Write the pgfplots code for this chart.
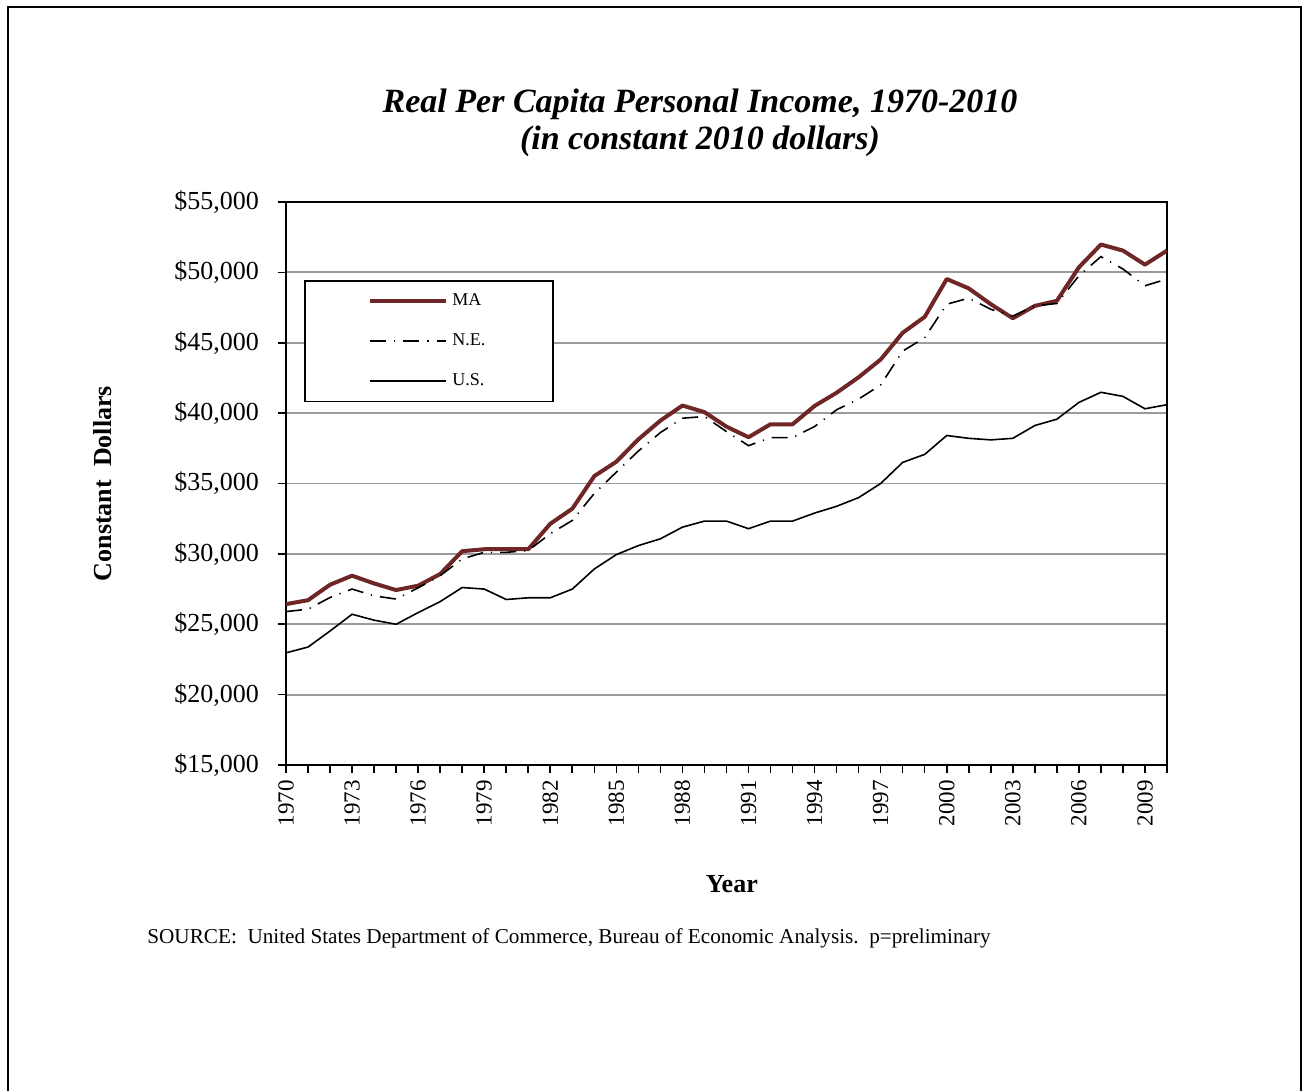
\documentclass[border=0pt]{standalone}
\usepackage{pgfplots}
\usepackage{pgfplotstable}
\pgfplotsset{compat=1.18}
\usepackage{fontspec}
\setmainfont{Liberation Serif}

\definecolor{maroon}{RGB}{110,38,38}
\definecolor{gridgray}{RGB}{155,155,155}

% year, MA, N.E., U.S. (constant 2010 dollars)
\pgfplotstableread{
year MA NE US
1970 26430 25900 22970
1971 26710 26070 23380
1972 27810 26900 24520
1973 28450 27500 25710
1974 27900 27020 25290
1975 27430 26790 25000
1976 27740 27590 25830
1977 28570 28450 26610
1978 30190 29640 27610
1979 30330 30110 27500
1980 30330 30110 26760
1981 30330 30240 26880
1982 32140 31430 26880
1983 33210 32380 27500
1984 35530 34300 28930
1985 36550 35810 29950
1986 38140 37310 30590
1987 39470 38620 31070
1988 40540 39640 31900
1989 40070 39760 32330
1990 39040 38690 32330
1991 38290 37690 31790
1992 39210 38260 32330
1993 39210 38260 32330
1994 40510 39050 32900
1995 41450 40240 33380
1996 42550 41000 34000
1997 43810 42000 35000
1998 45710 44410 36500
1999 46840 45360 37070
2000 49530 47740 38410
2001 48860 48170 38210
2002 47740 47380 38100
2003 46740 46900 38210
2004 47620 47620 39120
2005 47980 47790 39570
2006 50360 49760 40760
2007 51980 51120 41480
2008 51550 50240 41190
2009 50550 49050 40310
2010 51550 49530 40600
}\income

\begin{document}
\begin{tikzpicture}
\path[use as bounding box] (0,0) rectangle (651pt,-545.5pt);
\draw[line width=1pt] (4pt,-545.5pt) -- (4pt,-3.5pt) -- (650.5pt,-3.5pt) -- (650.5pt,-545.5pt);

\node[font=\fontsize{17}{20}\selectfont\bfseries\itshape] at (350pt,-52pt) {Real Per Capita Personal Income, 1970-2010};
\node[font=\fontsize{17}{20}\selectfont\bfseries\itshape] at (350pt,-70.5pt) {(in constant 2010 dollars)};

\begin{axis}[
  at={(143pt,-382.5pt)}, anchor=south west,
  scale only axis, width=440.5pt, height=281.5pt,
  xmin=1970, xmax=2010, ymin=15000, ymax=55000,
  scaled ticks=false,
  xtick={1970,1973,...,2009},
  minor xtick={1970,...,2010},
  xticklabels={1970,1973,1976,1979,1982,1985,1988,1991,1994,1997,2000,2003,2006,2009},
  ytick={15000,20000,...,55000},
  yticklabels={{\$15,000},{\$20,000},{\$25,000},{\$30,000},{\$35,000},{\$40,000},{\$45,000},{\$50,000},{\$55,000}},
  xtick pos=bottom, ytick pos=left,
  tick align=outside,
  major tick length=4pt, minor tick length=4pt,
  tick style={black, line width=0.8pt},
  axis line style={line width=1.3pt},
  ymajorgrids, major grid style={gridgray, line width=0.9pt},
  xticklabel style={font=\fontsize{11.5}{13}\selectfont, rotate=90, anchor=east},
  yticklabel style={font=\fontsize{13}{15}\selectfont, xshift=-6pt},
  xlabel={Year},
  xlabel style={font=\fontsize{13}{15}\selectfont\bfseries, at={(axis description cs:0.506,-0.2114)}, anchor=center},
  ylabel={Constant\ \ Dollars},
  ylabel style={font=\fontsize{13}{15}\selectfont\bfseries, at={(axis description cs:-0.2077,0.5)}, anchor=center},
  legend style={at={(0.0204,0.8615)}, anchor=north west, draw=black, line width=0.8pt,
    font=\fontsize{9}{10}\selectfont, inner xsep=31.75pt, inner ysep=4.5pt, row sep=8.5pt,
    /tikz/every even column/.append style={column sep=3pt}},
  legend cell align=left,
  legend image code/.code={\draw[#1] (0pt,0pt) -- (38pt,0pt);},
]
\addplot[maroon, line width=2pt, line join=round] table[x=year, y=MA] {\income};
\addlegendentry{MA}
\addplot[black, line width=0.8pt, dash pattern=on 8pt off 4pt on 0.6pt off 4pt] table[x=year, y=NE] {\income};
\addlegendentry{N.E.}
\addplot[black, line width=0.8pt] table[x=year, y=US] {\income};
\addlegendentry{U.S.}
\end{axis}

\node[anchor=west, inner sep=0pt, font=\fontsize{10.6}{12}\selectfont] at (73.5pt,-469pt)
  {SOURCE:\ \ United States Department of Commerce, Bureau of Economic Analysis.\ \ p=preliminary};
\end{tikzpicture}
\end{document}
